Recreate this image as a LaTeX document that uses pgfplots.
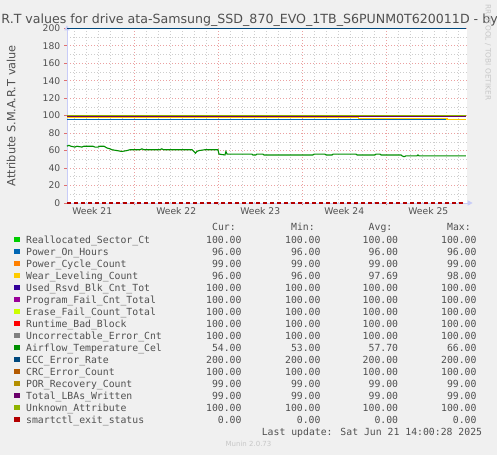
\documentclass[border=0pt]{standalone}
\usepackage{fontspec}
\setmainfont{DejaVu Sans}
\newfontfamily\monofont{DejaVu Sans Mono}
\usepackage{pgfplots}
\pgfplotsset{compat=1.18}
\usetikzlibrary{arrows.meta}

\definecolor{bgc}{HTML}{F0F0F0}
\definecolor{txt}{HTML}{505050}
\definecolor{axc}{HTML}{C8CCF8}
\definecolor{majgrid}{HTML}{EBA0A0}
\definecolor{mingrid}{HTML}{CDCDCD}
\definecolor{tickc}{HTML}{E07070}
\definecolor{c1}{HTML}{00CC00}
\definecolor{c2}{HTML}{0066B3}
\definecolor{c3}{HTML}{FF8000}
\definecolor{c4}{HTML}{FFCC00}
\definecolor{c5}{HTML}{330099}
\definecolor{c6}{HTML}{990099}
\definecolor{c7}{HTML}{CCFF00}
\definecolor{c8}{HTML}{FF0000}
\definecolor{c9}{HTML}{808080}
\definecolor{c10}{HTML}{008F00}
\definecolor{c11}{HTML}{00487D}
\definecolor{c12}{HTML}{B35A00}
\definecolor{c13}{HTML}{B38F00}
\definecolor{c14}{HTML}{6B006B}
\definecolor{c15}{HTML}{8FB300}
\definecolor{c16}{HTML}{B30000}

\newcommand\lfont{\monofont\fontsize{9.8}{11}\selectfont}
\newcommand\lrow[7]{%
  \pgfmathsetmacro\yc{455-239.6-12*#1}%
  \fill[#2] (14,\yc-2.8) rectangle (19.6,\yc+2.8);
  \node[anchor=base west,inner sep=0pt,font=\lfont,text=txt] at (26,\yc-3.6) {#3};
  \node[anchor=base east,inner sep=0pt,font=\lfont,text=txt] at (241.7,\yc-3.6) {#4};
  \node[anchor=base east,inner sep=0pt,font=\lfont,text=txt] at (320.7,\yc-3.6) {#5};
  \node[anchor=base east,inner sep=0pt,font=\lfont,text=txt] at (398.3,\yc-3.6) {#6};
  \node[anchor=base east,inner sep=0pt,font=\lfont,text=txt] at (476.7,\yc-3.6) {#7};
}

\begin{document}
\begin{tikzpicture}[x=1pt,y=1pt]
\path[use as bounding box] (0,0) rectangle (497,455);
\fill[bgc] (0,0) rectangle (497,455);

\begin{axis}[
  at={(67pt,252pt)}, anchor=south west,
  scale only axis, width=399.7pt, height=174.7pt,
  xmin=1.4, xmax=34.7, ymin=0, ymax=200,
  axis background/.style={fill=white},
  axis lines=left,
  axis line style={draw=axc, line width=0.9pt},
  x axis line style={-{Triangle[length=5pt,width=5pt]}, shorten >=-6pt},
  y axis line style={-{Triangle[length=5pt,width=5pt]}, shorten >=-3pt},
  xtick={7,14,21,28}, xticklabels={,,,},
  minor xtick={2,3,4,5,6,8,9,10,11,12,13,15,16,17,18,19,20,22,23,24,25,26,27,29,30,31,32,33,34},
  extra x ticks={3.5,10.5,17.5,24.5,31.5},
  extra x tick labels={Week 21,Week 22,Week 23,Week 24,Week 25},
  extra x tick style={grid=none, major tick length=0pt, xticklabel style={yshift=-4pt}},
  ytick={0,20,...,200},
  minor ytick={10,30,...,190},
  grid=both,
  major grid style={draw=majgrid, line width=0.7pt, dash pattern=on 1pt off 2pt},
  minor grid style={draw=mingrid, line width=0.7pt, dash pattern=on 1pt off 2pt},
  tick align=outside, major tick length=2.5pt, minor tick length=0pt,
  tick style={draw=tickc, line width=0.7pt},
  /pgf/number format/assume math mode=true,
  tick label style={font=\fontsize{9.2}{11}\selectfont, text=txt},
  yticklabel style={inner sep=0pt, xshift=-4pt},
  xticklabel style={inner sep=0pt},
  ylabel={Attribute S.M.A.R.T value},
  ylabel style={at={(axis description cs:-0.14,0.5)}, anchor=center, font=\fontsize{11.3}{13}\selectfont, text=txt},
  every axis plot/.append style={line width=1.1pt, mark=none},
  clip=false,
]
% 1 Reallocated_Sector_Ct
\addplot[c1] coordinates {(1.4,100) (34.64,100)};
% 2 Power_On_Hours
\addplot[c2] coordinates {(1.4,96) (34.64,96)};
% 3 Power_Cycle_Count
\addplot[c3] coordinates {(1.4,99) (34.64,99)};
% 4 Wear_Leveling_Count
\addplot[c4, const plot] coordinates {(1.4,98) (25.72,97) (33.06,96) (34.64,96)};
% 5 Used_Rsvd_Blk_Cnt_Tot
\addplot[c5] coordinates {(1.4,100) (34.64,100)};
% 6 Program_Fail_Cnt_Total
\addplot[c6] coordinates {(1.4,100) (34.64,100)};
% 7 Erase_Fail_Count_Total
\addplot[c7] coordinates {(1.4,100) (34.64,100)};
% 8 Runtime_Bad_Block
\addplot[c8] coordinates {(1.4,100) (34.64,100)};
% 9 Uncorrectable_Error_Cnt
\addplot[c9] coordinates {(1.4,100) (34.64,100)};
% 10 Airflow_Temperature_Cel
\addplot[c10] coordinates {
(1.39,65) (1.56,66) (1.73,65) (2.06,64) (2.23,65) (2.64,64) (2.81,65)
(3.56,65) (3.73,64) (3.98,64) (4.14,65) (4.48,65) (4.73,63) (4.98,62)
(5.14,61) (5.56,60) (5.98,59) (6.39,60) (6.64,61) (7.48,61) (7.64,62)
(7.81,61) (9.14,61) (9.3,62) (9.45,61) (10.39,61) (11.81,61) (11.97,59)
(12.10,57) (12.22,59) (12.39,60) (12.89,61) (13.98,61) (14.06,56)
(14.56,55) (14.64,59) (14.73,56) (16.81,56) (16.89,55) (17.14,55)
(17.22,56) (17.72,56) (17.81,55) (21.89,55) (21.98,56) (22.89,56)
(22.98,55) (23.48,55) (23.56,56) (25.48,56) (25.56,55) (27.06,55)
(27.14,56) (27.48,56) (27.56,55) (29.23,55) (29.31,54) (29.48,53)
(29.64,54) (30.56,54) (30.64,55) (30.73,54) (34.64,54)};
% 11 ECC_Error_Rate
\addplot[c11] coordinates {(1.4,200) (34.64,200)};
% 12 CRC_Error_Count
\addplot[c12] coordinates {(1.4,100) (34.64,100)};
% 13 POR_Recovery_Count
\addplot[c13] coordinates {(1.4,99) (34.64,99)};
% 14 Total_LBAs_Written
\addplot[c14] coordinates {(1.4,99) (34.64,99)};
% 15 Unknown_Attribute
\addplot[c15] coordinates {(1.4,100) (34.64,100)};
% 16 smartctl_exit_status
\addplot[c16, dash pattern=on 4pt off 3pt] coordinates {(1.4,0) (34.64,0)};
\end{axis}

% title
\node[anchor=base, inner sep=0pt, font=\fontsize{12.6}{15}\selectfont, text=txt] at (248.5,431)
  {S.M.A.R.T values for drive ata-Samsung\_SSD\_870\_EVO\_1TB\_S6PUNM0T620011D - by week};
% watermark
\node[rotate=-90, anchor=center, inner sep=0pt, font=\fontsize{7.4}{9}\selectfont, text=black!22] at (488,402.5)
  {RRDTOOL / TOBI OETIKER};

% legend header
\node[anchor=base east,inner sep=0pt,font=\lfont,text=txt] at (235.9,455-230.9) {Cur:};
\node[anchor=base east,inner sep=0pt,font=\lfont,text=txt] at (314.9,455-230.9) {Min:};
\node[anchor=base east,inner sep=0pt,font=\lfont,text=txt] at (392.5,455-230.9) {Avg:};
\node[anchor=base east,inner sep=0pt,font=\lfont,text=txt] at (470.9,455-230.9) {Max:};

\lrow{0}{c1}{Reallocated\_Sector\_Ct}{100.00}{100.00}{100.00}{100.00}
\lrow{1}{c2}{Power\_On\_Hours}{96.00}{96.00}{96.00}{96.00}
\lrow{2}{c3}{Power\_Cycle\_Count}{99.00}{99.00}{99.00}{99.00}
\lrow{3}{c4}{Wear\_Leveling\_Count}{96.00}{96.00}{97.69}{98.00}
\lrow{4}{c5}{Used\_Rsvd\_Blk\_Cnt\_Tot}{100.00}{100.00}{100.00}{100.00}
\lrow{5}{c6}{Program\_Fail\_Cnt\_Total}{100.00}{100.00}{100.00}{100.00}
\lrow{6}{c7}{Erase\_Fail\_Count\_Total}{100.00}{100.00}{100.00}{100.00}
\lrow{7}{c8}{Runtime\_Bad\_Block}{100.00}{100.00}{100.00}{100.00}
\lrow{8}{c9}{Uncorrectable\_Error\_Cnt}{100.00}{100.00}{100.00}{100.00}
\lrow{9}{c10}{Airflow\_Temperature\_Cel}{54.00}{53.00}{57.70}{66.00}
\lrow{10}{c11}{ECC\_Error\_Rate}{200.00}{200.00}{200.00}{200.00}
\lrow{11}{c12}{CRC\_Error\_Count}{100.00}{100.00}{100.00}{100.00}
\lrow{12}{c13}{POR\_Recovery\_Count}{99.00}{99.00}{99.00}{99.00}
\lrow{13}{c14}{Total\_LBAs\_Written}{99.00}{99.00}{99.00}{99.00}
\lrow{14}{c15}{Unknown\_Attribute}{100.00}{100.00}{100.00}{100.00}
\lrow{15}{c16}{smartctl\_exit\_status}{0.00}{0.00}{0.00}{0.00}

\node[anchor=base east,inner sep=0pt,font=\lfont,text=txt] at (482.3,455-435.3) {Last update: Sat Jun 21 14:00:28 2025};
\node[anchor=base,inner sep=0pt,font=\fontsize{7}{8}\selectfont,text=black!22] at (248.5,455-446.5) {Munin 2.0.73};
\end{tikzpicture}
\end{document}
